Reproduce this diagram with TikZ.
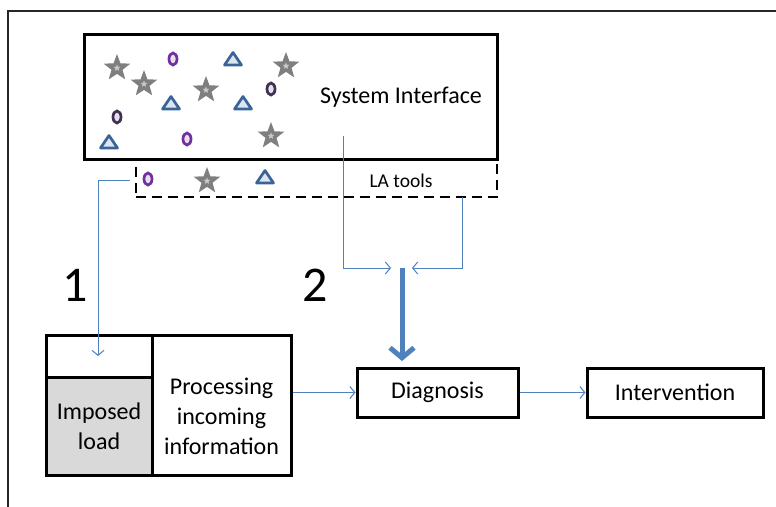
\documentclass[tikz,border=0pt]{standalone}
\usepackage{fontspec}
\setmainfont{Carlito}
\usetikzlibrary{shapes.geometric,arrows.meta}
\definecolor{lnblue}{HTML}{4F81BD}
\definecolor{stargray}{HTML}{7F7F7F}
\definecolor{starcore}{HTML}{C8C8C8}
\definecolor{ovbright}{HTML}{7030A0}
\definecolor{ovdark}{HTML}{3F3151}
\definecolor{ovfill}{HTML}{E6E0EC}
\definecolor{trline}{HTML}{3B6496}
\definecolor{trfill}{HTML}{DCE6F2}
\definecolor{loadgray}{HTML}{D9D9D9}
\tikzset{
  box/.style={draw=black, line width=3pt, inner sep=0pt},
  dashbox/.style={draw=black, line width=2.8pt, dash pattern=on 10pt off 6pt, inner sep=0pt},
  conn/.style={draw=lnblue, line width=1pt, -{Straight Barb[length=5pt,width=12pt]}},
  bigconn/.style={draw=lnblue, line width=5pt, -{Straight Barb[length=10pt,width=24pt,line width=5pt]}},
  txt/.style={font=\fontsize{24}{30}\selectfont, align=center, inner sep=0pt},
  starsh/.style={star, star points=5, star point ratio=2.4, minimum size=28pt, inner sep=0pt, fill=stargray},
  starin/.style={star, star points=5, star point ratio=2.2, minimum size=7pt, inner sep=0pt, fill=starcore},
  ovb/.style={ellipse, minimum width=8pt, minimum height=12pt, inner sep=0pt, draw=ovbright, fill=ovfill, line width=2.7pt},
  ovd/.style={ellipse, minimum width=8pt, minimum height=12pt, inner sep=0pt, draw=ovdark, fill=ovfill, line width=2.7pt},
  tri/.style={draw=trline, fill=trfill, line width=2.7pt, line join=round},
}
\newcommand{\StarAt}[3]{\node[starsh] (#1) at (#2,#3) {}; \node[starin] (#1c) at (#1) {};}
\newcommand{\TriAt}[3]{\coordinate (#1) at (#2,#3); \draw[tri] (#1) ++(-8.5,6) -- ++(8.5,-12.5) -- ++(8.5,12.5) -- cycle;}
\begin{document}
\begin{tikzpicture}[x=1pt,y=-1pt]
\useasboundingbox (0,0) rectangle (776,506);
% outer frame
\coordinate (fbl) at (8,510);
\coordinate (ftl) at (8,11);
\coordinate (ftr) at (780,11);
\draw[line width=1.3pt, draw=black!85] (fbl) -- (ftl) -- (ftr);

% LA tools dashed box (top hidden under system box)
\node[dashbox, minimum width=361pt, minimum height=38pt] (la) at (316.5,178) {};
% system interface
\node[box, fill=white, minimum width=413pt, minimum height=125pt] (sys) at (290.5,96.5) {};
\node[txt] (systxt) at (401,97) {System Interface};
\node[txt, font=\fontsize{19.5}{20}\selectfont] (latxt) at (401,181) {LA tools};

% shapes in system interface
\StarAt{s1}{117}{68}
\StarAt{s2}{144}{84}
\StarAt{s3}{206}{90}
\StarAt{s4}{286}{66}
\StarAt{s5}{271}{136}
\StarAt{s6}{207}{181}
\node[ovb] (o1) at (173,59) {};
\node[ovd] (o2) at (271,89) {};
\node[ovd] (o3) at (117,117) {};
\node[ovb] (o4) at (187,139) {};
\node[ovb] (o5) at (148,179) {};
\TriAt{t1}{233}{59}
\TriAt{t2}{171}{103}
\TriAt{t3}{243}{103}
\TriAt{t4}{109}{142}
\TriAt{t5}{265}{177}

% lower boxes
\node[box, minimum width=106pt, minimum height=42pt] (cell) at (99,356) {};
\node[box, fill=loadgray, minimum width=106pt, minimum height=98pt] (imposed) at (99,426) {};
\node[txt] (imptxt) at (99,426) {Imposed\\load};
\node[box, minimum width=139pt, minimum height=140pt] (proc) at (221.5,405) {};
\node[txt] (proctxt) at (221.5,416) {Processing\\incoming\\information};
\node[box, minimum width=161pt, minimum height=49pt] (diag) at (437.5,392.5) {};
\node[txt] (diagtxt) at (437.5,392) {Diagnosis};
\node[box, minimum width=176pt, minimum height=49pt] (interv) at (675,392.5) {};
\node[txt] (intvtxt) at (675,392) {Intervention};

% numbers
\node[txt, font=\fontsize{50}{50}\selectfont] (n1) at (75,285) {1};
\node[txt, font=\fontsize{50}{50}\selectfont] (n2) at (315,285) {2};

% connectors
\coordinate (c1s) at (130,180);
\coordinate (c1e) at (98,356);
\draw[conn] (c1s) -| (c1e);
\coordinate (c2s) at (343,136);
\coordinate (c2e) at (391,268);
\draw[conn] (c2s) |- (c2e);
\coordinate (c3s) at (462,197);
\coordinate (c3e) at (412,268);
\draw[conn] (c3s) |- (c3e);
\coordinate (c4s) at (402,268);
\coordinate (c4e) at (402,361);
\draw[bigconn] (c4s) -- (c4e);
\draw[conn] (proc.east |- diag.west) -- (diag.west);
\draw[conn] (diag.east) -- (interv.west);
\end{tikzpicture}
\end{document}
